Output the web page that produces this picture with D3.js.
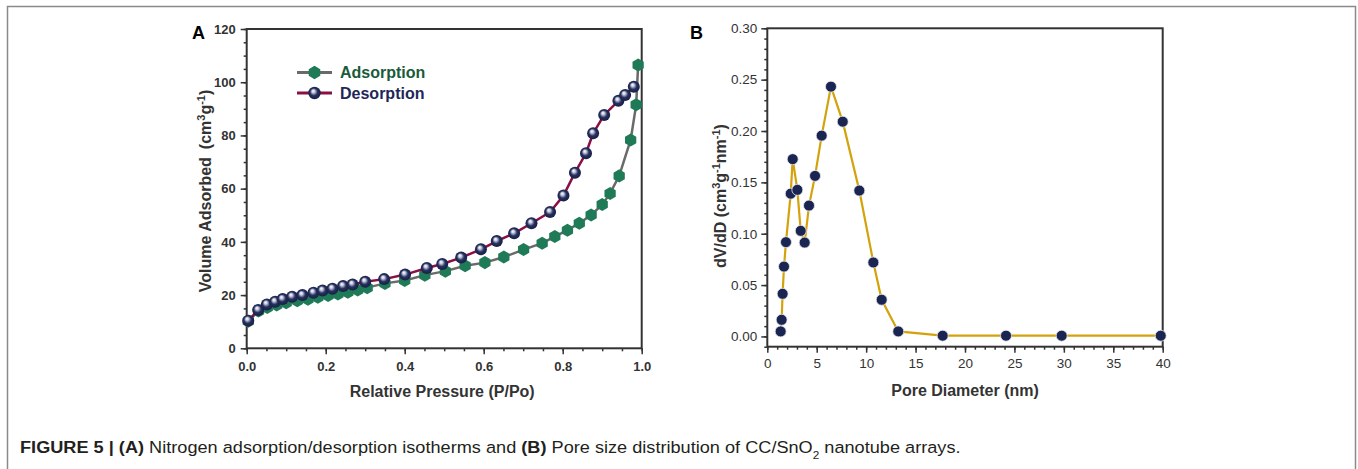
<!DOCTYPE html>
<html><head><meta charset="utf-8">
<script src="https://cdn.jsdelivr.net/npm/d3@7"></script>
<style>
html,body{margin:0;padding:0;background:#fff;}
svg{display:block;font-family:"Liberation Sans",Arial,Helvetica,sans-serif;}
</style></head>
<body>
<svg id="chart" width="1358" height="469"></svg>
<script>
// ---------- Data: Panel A (N2 isotherms) ----------
const adsP = [0.004,0.030,0.052,0.076,0.100,0.128,0.155,0.180,0.206,0.231,0.256,0.281,0.305,0.350,0.400,0.451,0.503,0.553,0.603,0.651,0.701,0.748,0.780,0.812,0.842,0.872,0.900,0.920,0.943,0.972,0.986,0.991];
const adsV = [10.2,14.0,15.3,16.3,17.1,17.9,18.4,19.2,19.8,20.4,21.1,21.9,22.8,24.4,25.5,27.5,29.0,31.0,32.2,34.3,37.1,39.5,42.0,44.4,47.0,50.1,54.0,58.2,64.8,78.3,91.5,106.5];
const desP = [0.004,0.029,0.051,0.072,0.091,0.115,0.141,0.169,0.192,0.217,0.244,0.268,0.300,0.348,0.401,0.456,0.495,0.543,0.593,0.633,0.677,0.721,0.768,0.802,0.831,0.859,0.877,0.905,0.941,0.958,0.980];
const desV = [10.4,14.4,16.5,17.5,18.5,19.4,20.0,20.9,21.7,22.4,23.4,24.0,25.0,26.0,27.7,30.2,31.7,34.1,37.2,40.3,43.2,47.0,51.2,57.4,66.0,73.3,80.8,87.7,93.0,95.2,98.3];
const seriesNames = ["Adsorption","Desorption"];
const aXTicks = [0,0.2,0.4,0.6,0.8,1.0];
const aYTicks = [0,20,40,60,80,100,120];

// ---------- Data: Panel B (pore size distribution) ----------
const poreD = [1.35,1.45,1.55,1.69,1.89,2.37,2.57,3.04,3.38,3.78,4.22,4.83,5.50,6.44,7.63,9.31,10.73,11.57,13.25,17.74,24.15,29.78,39.80];
const dVdD  = [0.0049,0.0162,0.0415,0.068,0.0918,0.139,0.1726,0.1427,0.1028,0.0914,0.1274,0.1563,0.1955,0.2432,0.2091,0.142,0.072,0.0357,0.0049,0.0007,0.0007,0.0007,0.0007];
const bXTicks = [0,5,10,15,20,25,30,35,40];
const bYTicks = [0,0.05,0.10,0.15,0.20,0.25,0.30];

const svg = d3.select("#chart");
const defs = svg.append("defs");
const grad = defs.append("radialGradient").attr("id","ball")
  .attr("cx","50%").attr("cy","50%").attr("r","55%").attr("fx","38%").attr("fy","32%");
grad.append("stop").attr("offset","0%").attr("stop-color","#ffffff");
grad.append("stop").attr("offset","22%").attr("stop-color","#c9cde0");
grad.append("stop").attr("offset","55%").attr("stop-color","#27305f");
grad.append("stop").attr("offset","100%").attr("stop-color","#141b40");

// outer figure frame
svg.append("path").attr("d","M7.5,480 V6.5 H1355.5 V480")
  .attr("fill","none").attr("stroke","#8a8a8a").attr("stroke-width",1.5);

const hexagon = {
  draw(ctx, size){
    const r = Math.sqrt(size/(1.5*Math.sqrt(3)));
    for(let i=0;i<6;i++){
      const a = Math.PI/2 + i*Math.PI/3;
      const x = r*Math.cos(a), y = r*Math.sin(a);
      if(i===0) ctx.moveTo(x,y); else ctx.lineTo(x,y);
    }
    ctx.closePath();
  }
};

// ================= Panel A =================
const A = {l:246.7, r:641.7, t:29, b:348.3};
const xA = d3.scaleLinear().domain([0,1]).range([A.l,A.r]);
const yA = d3.scaleLinear().domain([0,120]).range([A.b,A.t]);
const gA = svg.append("g");

function styleAxis(g, bold, size){
  g.select(".domain").remove();
  g.selectAll("line").attr("stroke","#333").attr("stroke-width",1.5);
  g.selectAll("text").attr("fill","#333").style("font-size",size+"px")
   .style("font-weight", bold?"bold":"normal").style("font-family","'Liberation Sans',Arial,sans-serif");
}

// minor ticks
gA.append("g").attr("transform",`translate(0,${A.b})`)
  .call(d3.axisBottom(xA).tickValues(d3.range(0,1.0001,0.05)).tickSize(3).tickFormat(""))
  .call(g=>styleAxis(g,true,13));
gA.append("g").attr("transform",`translate(${A.l},0)`)
  .call(d3.axisLeft(yA).tickValues(d3.range(0,120.01,5)).tickSize(3).tickFormat(""))
  .call(g=>styleAxis(g,true,13));
// major ticks
gA.append("g").attr("transform",`translate(0,${A.b})`)
  .call(d3.axisBottom(xA).tickValues(aXTicks).tickSize(6).tickPadding(7).tickFormat(d3.format(".1f")))
  .call(g=>styleAxis(g,true,13));
gA.append("g").attr("transform",`translate(${A.l},0)`)
  .call(d3.axisLeft(yA).tickValues(aYTicks).tickSize(6).tickPadding(5).tickFormat(d3.format("d")))
  .call(g=>styleAxis(g,true,13));
gA.append("rect").attr("x",A.l).attr("y",A.t).attr("width",A.r-A.l).attr("height",A.b-A.t)
  .attr("fill","none").attr("stroke","#333").attr("stroke-width",2);

const adsData = adsP.map((p,i)=>({x:p,y:adsV[i]}));
const desData = desP.map((p,i)=>({x:p,y:desV[i]}));
const lineA = d3.line().x(d=>xA(d.x)).y(d=>yA(d.y));
const plotA = gA.append("g");
plotA.append("path").datum(adsData).attr("d",lineA).attr("fill","none").attr("stroke","#6a6a6a").attr("stroke-width",2.5);
plotA.selectAll(".hex").data(adsData).join("path").attr("class","hex")
  .attr("transform",d=>`translate(${xA(d.x)},${yA(d.y)})`)
  .attr("d",d3.symbol(hexagon,110)).attr("fill","#1f7a57");
plotA.append("path").datum(desData).attr("d",lineA).attr("fill","none").attr("stroke","#8a0f45").attr("stroke-width",2.5);
plotA.selectAll(".ball").data(desData).join("circle").attr("class","ball")
  .attr("cx",d=>xA(d.x)).attr("cy",d=>yA(d.y)).attr("r",6).attr("fill","url(#ball)");

// legend
const leg = gA.append("g");
const legY = [72.5, 93];
leg.append("line").attr("x1",297).attr("x2",332).attr("y1",legY[0]).attr("y2",legY[0]).attr("stroke","#6a6a6a").attr("stroke-width",2.8);
leg.append("path").attr("transform",`translate(314.5,${legY[0]})`).attr("d",d3.symbol(hexagon,115)).attr("fill","#1f7a57");
leg.append("text").attr("x",340).attr("y",legY[0]+5.5).text(seriesNames[0])
  .attr("fill","#1b5a3c").style("font-weight","bold").style("font-size","16px");
leg.append("line").attr("x1",297).attr("x2",332).attr("y1",legY[1]).attr("y2",legY[1]).attr("stroke","#8a0f45").attr("stroke-width",2.8);
leg.append("circle").attr("cx",314.5).attr("cy",legY[1]).attr("r",6.2).attr("fill","url(#ball)");
leg.append("text").attr("x",340).attr("y",legY[1]+5.5).text(seriesNames[1])
  .attr("fill","#1e2758").style("font-weight","bold").style("font-size","16px");

// axis titles A
gA.append("text").attr("x",(A.l+A.r)/2 - 2).attr("y",397).attr("text-anchor","middle")
  .style("font-weight","bold").style("font-size","16px").attr("fill","#333").text("Relative Pressure (P/Po)");
const yTA = gA.append("text").attr("transform","translate(211,191) rotate(-90)").attr("text-anchor","middle")
  .style("font-weight","bold").style("font-size","16px").attr("fill","#333");
yTA.append("tspan").text("Volume Adsorbed\u2002(cm");
yTA.append("tspan").attr("baseline-shift","super").style("font-size","11px").text("3");
yTA.append("tspan").text("g");
yTA.append("tspan").attr("baseline-shift","super").style("font-size","11px").text("-1");
yTA.append("tspan").text(")");
gA.append("text").attr("x",192).attr("y",38.5).text("A").style("font-weight","bold").style("font-size","18px").attr("fill","#000");

// ================= Panel B =================
const B = {l:767.3, r:1162.7, t:28.3, b:346.7};
const xB = d3.scaleLinear().domain([0,40]).range([B.l,B.r]);
const yB = d3.scaleLinear().domain([-0.01,0.30]).range([B.b,B.t]);
const gB = svg.append("g");
gB.append("g").attr("transform",`translate(0,${B.b})`)
  .call(d3.axisBottom(xB).tickValues(d3.range(0,40.01,1)).tickSize(3).tickFormat(""))
  .call(g=>styleAxis(g,false,13.5));
gB.append("g").attr("transform",`translate(${B.l},0)`)
  .call(d3.axisLeft(yB).tickValues(d3.range(-0.01,0.3001,0.01)).tickSize(3).tickFormat(""))
  .call(g=>styleAxis(g,false,13.5));
gB.append("g").attr("transform",`translate(0,${B.b})`)
  .call(d3.axisBottom(xB).tickValues(bXTicks).tickSize(6).tickPadding(6).tickFormat(d3.format("d")))
  .call(g=>styleAxis(g,false,13.5));
gB.append("g").attr("transform",`translate(${B.l},0)`)
  .call(d3.axisLeft(yB).tickValues(bYTicks).tickSize(6).tickPadding(4).tickFormat(d3.format(".2f")))
  .call(g=>styleAxis(g,false,13.5));
gB.append("rect").attr("x",B.l).attr("y",B.t).attr("width",B.r-B.l).attr("height",B.b-B.t)
  .attr("fill","none").attr("stroke","#333").attr("stroke-width",2);

const psd = poreD.map((d,i)=>({x:d,y:dVdD[i]}));
const lineB = d3.line().x(d=>xB(d.x)).y(d=>yB(d.y));
gB.append("path").datum(psd).attr("d",lineB).attr("fill","none").attr("stroke","#d4a20a").attr("stroke-width",2.2);
gB.selectAll(".dot").data(psd).join("circle").attr("class","dot")
  .attr("cx",d=>xB(d.x)).attr("cy",d=>yB(d.y)).attr("r",5.5)
  .attr("fill","#1a2651").attr("stroke","#e8eaf2").attr("stroke-width",0.8);

gB.append("text").attr("x",(B.l+B.r)/2).attr("y",396).attr("text-anchor","middle")
  .style("font-weight","bold").style("font-size","16px").attr("fill","#333").text("Pore Diameter (nm)");
const yTB = gB.append("text").attr("transform","translate(726,196) rotate(-90)").attr("text-anchor","middle")
  .style("font-weight","bold").style("font-size","16px").attr("fill","#333");
yTB.append("tspan").text("dV/dD (cm");
yTB.append("tspan").attr("baseline-shift","super").style("font-size","11px").text("3");
yTB.append("tspan").text("g");
yTB.append("tspan").attr("baseline-shift","super").style("font-size","11px").text("-1");
yTB.append("tspan").text("nm");
yTB.append("tspan").attr("baseline-shift","super").style("font-size","11px").text("-1");
yTB.append("tspan").text(")");
gB.append("text").attr("x",690).attr("y",38.5).text("B").style("font-weight","bold").style("font-size","18px").attr("fill","#000");

// ================= Caption =================
const cap = svg.append("text").attr("x",0).attr("y",0).style("font-size","17px").attr("fill","#231f20");
cap.append("tspan").style("font-weight","bold").text("FIGURE 5 | (A)");
cap.append("tspan").text(" Nitrogen adsorption/desorption isotherms and ");
cap.append("tspan").style("font-weight","bold").text("(B)");
cap.append("tspan").text(" Pore size distribution of CC/SnO");
cap.append("tspan").attr("baseline-shift","sub").style("font-size","11px").text("2");
cap.append("tspan").text(" nanotube arrays.");
const w = cap.node().getComputedTextLength();
const targetW = 941;
cap.attr("transform",`translate(20,453) scale(${targetW/w},1)`);
</script>
</body></html>
